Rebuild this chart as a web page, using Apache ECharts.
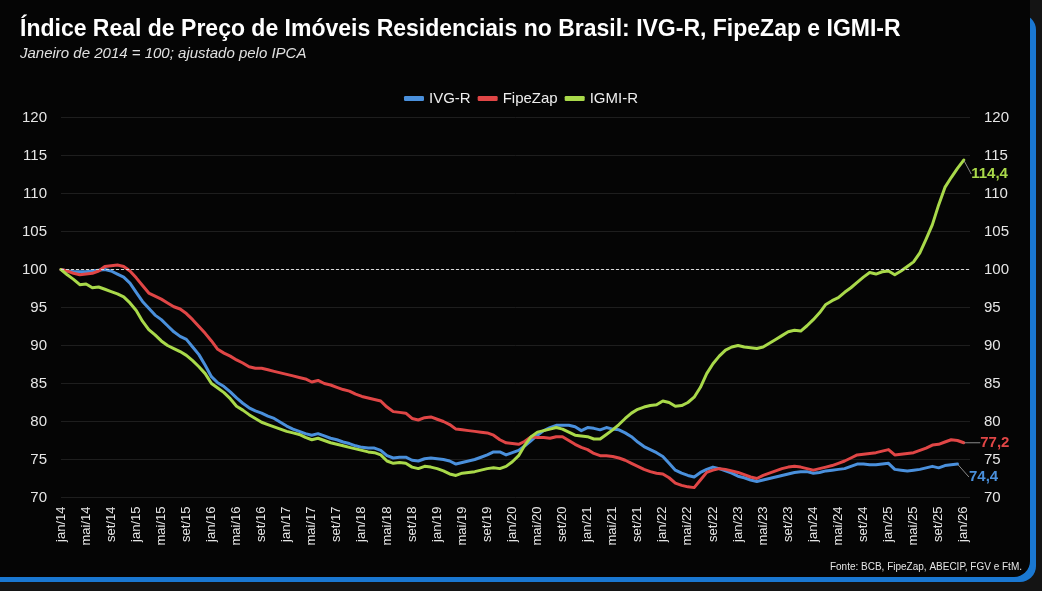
<!DOCTYPE html>
<html>
<head>
<meta charset="utf-8">
<script src="https://cdn.jsdelivr.net/npm/echarts@6/dist/echarts.min.js"></script>
<style>
  html, body { margin: 0; padding: 0; background: #141414; }
  #chart { width: 1042px; height: 591px; }
</style>
</head>
<body>
<div id="chart"></div>
<script>
  // meses de jan/14 a jan/26 (rótulo a cada 4 meses)
  const meses = ['jan', 'fev', 'mar', 'abr', 'mai', 'jun', 'jul', 'ago', 'set', 'out', 'nov', 'dez']
  const categorias = []
  for (let a = 14; a <= 26; a++) {
    for (let m = 0; m < 12; m++) {
      if (a === 26 && m > 0) break
      categorias.push(meses[m] + '/' + a)
    }
  }
  categorias.push('') // folga no fim do eixo

  const ivgR = [
    100.0, 99.8, 99.7, 99.7, 99.7, 99.8, 99.9, 100.0, 99.8, 99.4, 99.0, 98.2,
    97.0, 95.8, 94.9, 94.0, 93.4, 92.6, 91.8, 91.2, 90.8, 89.8, 88.8, 87.4,
    85.9, 85.1, 84.6, 83.9, 83.1, 82.4, 81.8, 81.4, 81.1, 80.7, 80.4, 79.9,
    79.4, 79.0, 78.7, 78.4, 78.2, 78.4, 78.1, 77.8, 77.6, 77.3, 77.1, 76.8,
    76.6, 76.5, 76.5, 76.2, 75.5, 75.2, 75.3, 75.3, 74.9, 74.8, 75.1, 75.2,
    75.1, 75.0, 74.8, 74.4, 74.6, 74.8, 75.0, 75.3, 75.6, 76.0, 76.0, 75.6,
    75.9, 76.2, 76.8, 77.5, 78.2, 78.8, 79.2, 79.5, 79.5, 79.5, 79.3, 78.8,
    79.2, 79.1, 78.9, 79.2, 79.0, 78.9, 78.5, 78.0, 77.3, 76.7, 76.3, 75.9,
    75.4, 74.5, 73.6, 73.2, 72.9, 72.7, 73.3, 73.7, 74.0, 73.8, 73.5, 73.2,
    72.8, 72.6, 72.3, 72.1, 72.3, 72.5, 72.7, 72.9, 73.1, 73.3, 73.4, 73.4,
    73.2, 73.3, 73.5, 73.6, 73.7, 73.8, 74.1, 74.4, 74.4, 74.3, 74.3, 74.4,
    74.5, 73.7, 73.6, 73.5, 73.6, 73.7, 73.9, 74.1, 73.9, 74.2, 74.3, 74.4
  ]
  const fipeZap = [
    100.0, 99.8, 99.5, 99.3, 99.4, 99.5, 99.8, 100.4, 100.5, 100.6, 100.4, 99.8,
    98.9, 97.9, 96.9, 96.5, 96.1, 95.6, 95.1, 94.8, 94.2, 93.4, 92.5, 91.6,
    90.6, 89.5, 89.0, 88.6, 88.1, 87.7, 87.2, 87.0, 87.0, 86.8, 86.6, 86.4,
    86.2, 86.0, 85.8, 85.6, 85.2, 85.4, 85.0, 84.8, 84.5, 84.2, 84.0, 83.6,
    83.3, 83.1, 82.9, 82.7, 81.9, 81.3, 81.2, 81.1, 80.4, 80.2, 80.5, 80.6,
    80.3, 80.0, 79.6, 79.0, 78.9, 78.8, 78.7, 78.6, 78.5, 78.2, 77.6, 77.2,
    77.1, 77.0, 77.4, 78.0, 77.9, 77.9, 77.8, 78.0, 78.0, 77.5, 77.0, 76.6,
    76.3, 75.8, 75.5, 75.5, 75.4, 75.2, 74.9, 74.5, 74.1, 73.7, 73.4, 73.2,
    73.1, 72.6, 71.9, 71.6, 71.4, 71.3, 72.3, 73.3, 73.6, 73.8, 73.7, 73.5,
    73.3, 73.0, 72.7, 72.5, 72.9, 73.2, 73.5, 73.8, 74.0, 74.1, 74.0, 73.8,
    73.6, 73.8, 74.0, 74.2, 74.5, 74.8, 75.2, 75.6, 75.7, 75.8, 75.9, 76.1,
    76.3, 75.6, 75.7, 75.8, 75.9, 76.2, 76.5, 76.9, 77.0, 77.3, 77.6, 77.5,
    77.2
  ]
  const igmiR = [
    100.0, 99.3, 98.7, 98.0, 98.1, 97.6, 97.7, 97.4, 97.1, 96.8, 96.4, 95.6,
    94.6, 93.2, 92.1, 91.4, 90.6, 90.0, 89.6, 89.2, 88.7, 88.0, 87.2, 86.3,
    85.0, 84.4, 83.8, 83.0, 82.0, 81.5, 80.9, 80.4, 79.9, 79.6, 79.3, 79.0,
    78.7, 78.5, 78.3, 77.9, 77.6, 77.8, 77.5, 77.2, 77.0, 76.8, 76.6, 76.4,
    76.2, 76.0, 75.9, 75.6, 74.8, 74.5, 74.6, 74.5, 74.0, 73.8, 74.1, 74.0,
    73.8, 73.5, 73.1, 72.9, 73.2, 73.3, 73.4, 73.6, 73.8, 73.9, 73.8, 74.1,
    74.7, 75.5, 76.9, 78.0, 78.6, 78.8, 79.0, 79.2, 79.0, 78.6, 78.2, 78.1,
    78.0, 77.7, 77.7, 78.3, 78.9, 79.6, 80.4, 81.1, 81.6, 81.9, 82.1, 82.2,
    82.7, 82.5, 82.0, 82.1, 82.5, 83.2, 84.5, 86.3, 87.6, 88.6, 89.4, 89.8,
    90.0, 89.8, 89.7, 89.6, 89.8, 90.3, 90.8, 91.3, 91.8, 92.0, 91.9, 92.6,
    93.4, 94.3, 95.4, 95.9, 96.3, 97.0, 97.6, 98.3, 99.0, 99.6, 99.4, 99.7,
    99.8, 99.3, 99.8, 100.4, 101.0, 102.2, 104.0, 105.9, 108.5, 110.8, 112.1, 113.3,
    114.4
  ]

  const fonteNarrow = '"Liberation Sans Narrow", "Liberation Sans", sans-serif'
  const fonte = '"Liberation Sans", Arial, sans-serif'

  // só o último ponto de cada série ganha rótulo
  function comRotulo(vals) {
    return vals.map((v, i) => i === vals.length - 1
      ? { value: v, symbol: 'circle', symbolSize: 1, label: { show: true } }
      : v)
  }

  function serie(nome, vals, cor, dx, dy, comLinha100) {
    const s = {
      name: nome,
      type: 'line',
      data: comRotulo(vals),
      symbol: 'none',
      showSymbol: true,
      showAllSymbol: true,
      lineStyle: { color: cor, width: 3, cap: 'round', join: 'round' },
      itemStyle: { color: cor },
      label: {
        show: false,
        position: 'right',
        distance: 4,
        color: cor,
        fontFamily: fonte,
        fontWeight: 'bold',
        fontSize: 15,
        formatter: p => p.value.toFixed(1).replace('.', ',')
      },
      labelLayout: { dx: dx, dy: dy },
      labelLine: { show: true, lineStyle: { color: '#8a8a8a', width: 1 } },
      emphasis: { disabled: true },
      z: 3
    }
    if (comLinha100) {
      s.markLine = {
        silent: true,
        symbol: 'none',
        label: { show: false },
        lineStyle: { color: '#d8d8d8', type: [3, 2], width: 1 },
        data: [{ yAxis: 100 }]
      }
    }
    return s
  }

  const chart = echarts.init(document.getElementById('chart'))
  chart.setOption({
    animation: false,
    backgroundColor: '#141414',
    graphic: [
      { type: 'rect', z: -20, silent: true, shape: { x: -20, y: 14, width: 1056, height: 568, r: 16 }, style: { fill: '#1a78d2' } },
      { type: 'rect', z: -19, silent: true, shape: { x: -20, y: -20, width: 1050, height: 597, r: 16 }, style: { fill: '#050505' } },
      {
        type: 'text', right: 20, top: 562, silent: true,
        style: { text: 'Fonte: BCB, FipeZap, ABECIP, FGV e FtM.', fill: '#e6e6e6', font: '10px ' + fonteNarrow }
      }
    ],
    title: {
      text: 'Índice Real de Preço de Imóveis Residenciais no Brasil: IVG-R, FipeZap e IGMI-R',
      subtext: 'Janeiro de 2014 = 100; ajustado pelo IPCA',
      left: 15,
      top: 13,
      itemGap: 5,
      textStyle: { color: '#ffffff', fontFamily: fonteNarrow, fontWeight: 'bold', fontSize: 23 },
      subtextStyle: { color: '#e0e0e0', fontFamily: fonteNarrow, fontStyle: 'italic', fontSize: 15 }
    },
    legend: {
      top: 86,
      left: 'center',
      icon: 'roundRect',
      itemWidth: 20,
      itemHeight: 5,
      itemGap: 7,
      textStyle: { color: '#eeeeee', fontFamily: fonteNarrow, fontSize: 15 },
      data: ['IVG-R', 'FipeZap', 'IGMI-R']
    },
    grid: { left: 61, right: 72, top: 117.5, bottom: 93.5 },
    xAxis: {
      type: 'category',
      data: categorias,
      boundaryGap: false,
      axisLine: { show: false },
      axisTick: { show: false },
      splitLine: { show: false },
      axisLabel: { interval: 3, rotate: 90, margin: 9, color: '#e6e6e6', fontFamily: fonte, fontSize: 13 }
    },
    yAxis: [
      {
        type: 'value', min: 70, max: 120, interval: 5, position: 'left',
        axisLine: { show: false }, axisTick: { show: false },
        splitLine: { lineStyle: { color: '#1e1e1e', width: 1 } },
        axisLabel: { color: '#e6e6e6', fontFamily: fonte, fontSize: 15, margin: 14 }
      },
      {
        type: 'value', min: 70, max: 120, interval: 5, position: 'right',
        axisLine: { show: false }, axisTick: { show: false },
        splitLine: { show: false },
        axisLabel: { color: '#e6e6e6', fontFamily: fonte, fontSize: 15, margin: 14 }
      }
    ],
    series: [
      serie('IVG-R', ivgR, '#4a90dc', 7, 13, true),
      serie('FipeZap', fipeZap, '#e04646', 12, 0, false),
      serie('IGMI-R', igmiR, '#a9d94a', 3, 14, false)
    ]
  })
</script>
</body>
</html>
